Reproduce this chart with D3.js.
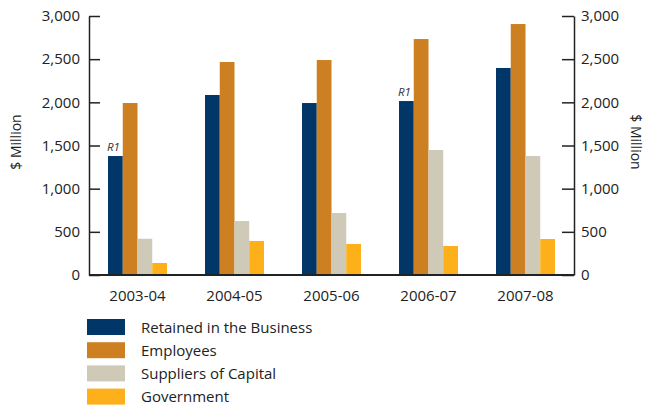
<!DOCTYPE html>
<html>
<head>
<meta charset="utf-8">
<script src="https://cdn.jsdelivr.net/npm/d3@7"></script>
<style>
  html, body { margin: 0; padding: 0; background: #fff; }
  svg { display: block; font-family: "Open Sans", "Noto Sans", sans-serif; }
</style>
</head>
<body>
<svg id="chart" width="646" height="407"></svg>
<script>
// Distribution of value added, $ million
const years = ["2003-04", "2004-05", "2005-06", "2006-07", "2007-08"];
const seriesNames = ["Retained in the Business", "Employees", "Suppliers of Capital", "Government"];
const retained = [1378, 2085, 1992, 2015, 2398];
const employees = [1992, 2467, 2490, 2733, 2907];
const suppliers = [420, 625, 718, 1448, 1378];
const government = [139, 394, 359, 336, 417];
const colors = ["#003768", "#cc8022", "#cfc9b8", "#fdb01a"];
const yTicks = [0, 500, 1000, 1500, 2000, 2500, 3000];
// Restated figures carry an "R1" note above the bar
const restated = ["2003-04", "2006-07"];

const values = [retained, employees, suppliers, government];

const svg = d3.select("#chart");
const plotLeft = 89, plotRight = 574, plotTop = 16, plotBottom = 275;

const x0 = d3.scaleBand().domain(years).range([plotLeft, plotRight])
  .paddingInner(0.392).paddingOuter(0.196);
const x1 = d3.scaleBand().domain(seriesNames).range([0, x0.bandwidth()]).padding(0);
const y = d3.scaleLinear().domain([0, 3000]).range([plotBottom, plotTop]);

// Bars
const groups = svg.append("g").selectAll("g")
  .data(years).join("g")
  .attr("transform", d => `translate(${x0(d)},0)`);

groups.selectAll("rect")
  .data((d, i) => seriesNames.map((s, j) => ({ s, v: values[j][i], c: colors[j] })))
  .join("rect")
  .attr("x", d => x1(d.s))
  .attr("width", x1.bandwidth())
  .attr("y", d => y(d.v))
  .attr("height", d => y(0) - y(d.v))
  .attr("fill", d => d.c);

// R1 notes
svg.append("g").selectAll("text")
  .data(restated).join("text")
  .attr("x", d => x0(d) - 1)
  .attr("y", d => y(retained[years.indexOf(d)]) - 5)
  .attr("font-size", 11.5)
  .attr("font-style", "italic")
  .attr("fill", "#333")
  .text("R1");

// Axes: ticks point inward, labels outside
const leftAxis = d3.axisLeft(y).tickValues(yTicks).tickSizeInner(-11).tickSizeOuter(0)
  .tickPadding(9).tickFormat(d3.format(","));
const rightAxis = d3.axisRight(y).tickValues(yTicks).tickSizeInner(-12).tickSizeOuter(0)
  .tickPadding(7).tickFormat(d3.format(","));

function styleAxis(g) {
  g.select(".domain").attr("stroke", "#222").attr("stroke-width", 1.5);
  g.selectAll(".tick line").attr("stroke", "#222").attr("stroke-width", 1.5);
  g.selectAll(".tick text").attr("font-size", 15).attr("fill", "#222")
    .attr("font-family", "'Open Sans', sans-serif");
}

svg.append("g").attr("transform", `translate(${plotLeft},0)`).call(leftAxis).call(styleAxis);
svg.append("g").attr("transform", `translate(${plotRight},0)`).call(rightAxis).call(styleAxis);

// Baseline
svg.append("line")
  .attr("x1", plotLeft).attr("x2", plotRight)
  .attr("y1", y(0)).attr("y2", y(0))
  .attr("stroke", "#222").attr("stroke-width", 2);

// Category labels
svg.append("g").selectAll("text")
  .data(years).join("text")
  .attr("x", d => x0(d) + x0.bandwidth() / 2)
  .attr("y", 301)
  .attr("text-anchor", "middle")
  .attr("font-size", 15)
  .attr("fill", "#222")
  .text(d => d);

// Axis titles
svg.append("text")
  .attr("transform", "translate(21,142) rotate(-90)")
  .attr("text-anchor", "middle")
  .attr("font-size", 14).attr("fill", "#222")
  .text("$ Million");
svg.append("text")
  .attr("transform", "translate(631,142) rotate(90)")
  .attr("text-anchor", "middle")
  .attr("font-size", 14).attr("fill", "#222")
  .text("$ Million");

// Legend
const legend = svg.append("g").selectAll("g")
  .data(seriesNames).join("g")
  .attr("transform", (d, i) => `translate(87,${319 + i * 23.2})`);
legend.append("rect")
  .attr("width", 38).attr("height", 16)
  .attr("fill", (d, i) => colors[i]);
legend.append("text")
  .attr("x", 54).attr("y", 13.5)
  .attr("font-size", 15).attr("fill", "#222")
  .text(d => d);
</script>
</body>
</html>
